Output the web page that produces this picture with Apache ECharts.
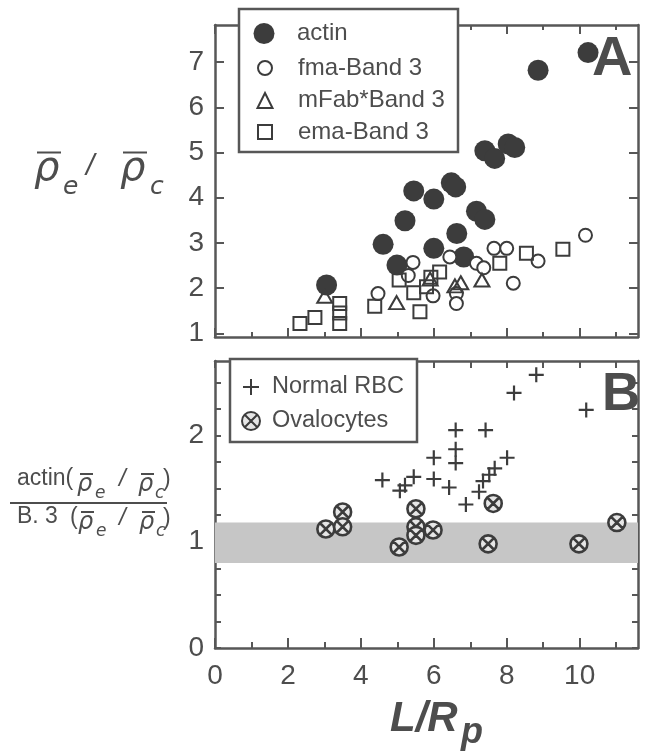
<!DOCTYPE html>
<html>
<head>
<meta charset="utf-8">
<script src="https://cdn.jsdelivr.net/npm/echarts@6/dist/echarts.min.js"></script>
<style>
  html, body { margin: 0; background: #fff; }
  #chart { width: 646px; height: 752px; }
</style>
</head>
<body>
<div id="chart"></div>
<script>
// panel A: rho_e / rho_c against L/Rp
const actin = [[3.06,2.07],[4.61,2.97],[4.99,2.51],[5.21,3.49],[5.45,4.15],[6.0,3.97],[6.0,2.88],
  [6.48,4.33],[6.6,4.24],[6.63,3.21],[6.82,2.69],[7.17,3.7],[7.4,3.52],[7.4,5.04],[7.67,4.87],
  [8.04,5.19],[8.22,5.11],[8.86,6.82],[10.23,7.21]];
const fmaBand3 = [[4.47,1.88],[5.3,2.28],[5.43,2.57],[5.98,1.83],[6.44,2.69],[6.62,1.88],[6.62,1.66],
  [7.17,2.55],[7.37,2.45],[7.65,2.88],[8.0,2.88],[8.18,2.11],[8.86,2.6],[10.16,3.17]];
const mFabBand3 = [[3.01,1.82],[4.98,1.68],[5.9,2.2],[6.58,2.05],[6.74,2.12],[7.32,2.18]];
const emaBand3 = [[2.33,1.22],[2.74,1.35],[3.42,1.66],[3.42,1.45],[3.42,1.22],[4.38,1.6],[5.05,2.18],
  [5.45,1.9],[5.62,1.48],[5.8,2.03],[5.92,2.24],[6.16,2.36],[7.81,2.55],[8.54,2.77],[9.54,2.86]];

// panel B: actin / Band 3 ratio
const normalRBC = [[4.59,1.58],[5.07,1.48],[5.21,1.53],[5.45,1.61],[6.0,1.79],[6.0,1.59],[6.42,1.51],
  [6.6,2.05],[6.6,1.87],[6.6,1.74],[6.88,1.35],[7.24,1.47],[7.35,1.57],[7.52,1.63],[7.67,1.69],
  [8.01,1.79],[7.42,2.05],[8.2,2.4],[8.81,2.57],[10.18,2.24]];
const ovalocytes = [[3.04,1.12],[3.5,1.28],[3.5,1.14],[5.05,0.95],[5.51,1.31],[5.51,1.14],[5.51,1.06],
  [5.98,1.11],[7.49,0.98],[7.63,1.36],[9.98,0.98],[11.02,1.18]];
const shadedBand = [0.8, 1.18];

// axes
const xRange = [0, 11.6];
const xTicksAll = [0,1,2,3,4,5,6,7,8,9,10,11];
const xTicksEven = [0,2,4,6,8,10];
const xLabels = [0,2,4,6,8,10];
const yRangeA = [0.92, 7.82];
const yTicksA = [1,2,3,4,5,6,7];
const yRangeB = [0, 2.7];
const yTicksB = [0,0.25,0.5,0.75,1,1.25,1.5,1.75,2,2.25,2.5];
const yLabelsB = [0,1,2];

const INK = '#3c3c3c';
const FRAME = '#575757';
const TEXT = '#4d4d4d';
const SANS = '"Liberation Sans", Arial, sans-serif';
const GREEK = '"DejaVu Sans", sans-serif';

const plusPath = 'path://M0,6 L12,6 M6,0 L6,12';
const otimesPath = 'path://M10,0 A10,10 0 1,1 10,20 A10,10 0 1,1 10,0 Z M3.6,3.6 L16.4,16.4 M16.4,3.6 L3.6,16.4';

const chart = echarts.init(document.getElementById('chart'));

function xAxisFor(grid, pos, ticks, len, line, labels) {
  return {
    type: 'value', gridIndex: grid, position: pos, offset: 0,
    min: xRange[0], max: xRange[1],
    axisLine: { show: line, onZero: false, lineStyle: { color: FRAME, width: 2.5 } },
    axisTick: { show: true, inside: true, length: len, customValues: ticks,
      lineStyle: { color: FRAME, width: 2 } },
    axisLabel: labels
      ? { show: true, customValues: labels, margin: 14, fontSize: 28, fontFamily: SANS, color: TEXT }
      : { show: false },
    splitLine: { show: false }
  };
}

function yAxisFor(grid, pos, range, ticks, len, labels) {
  return {
    type: 'value', gridIndex: grid, position: pos, offset: 0,
    min: range[0], max: range[1],
    axisLine: { show: true, onZero: false, lineStyle: { color: FRAME, width: 2.5 } },
    axisTick: { show: true, inside: true, length: len, customValues: ticks,
      lineStyle: { color: FRAME, width: 2 } },
    axisLabel: labels
      ? { show: true, customValues: labels, margin: 11, fontSize: 28, fontFamily: SANS, color: TEXT }
      : { show: false },
    splitLine: { show: false }
  };
}

function txt(text, x, baseline, size, family, style) {
  return {
    type: 'text', x: x, y: baseline - 0.35 * size, z: 30,
    style: { text: text, font: (style || 'normal') + ' ' + size + 'px ' + family,
      fill: TEXT, align: 'left', verticalAlign: 'middle' }
  };
}
function bar(x1, x2, y) {
  return { type: 'line', z: 30, shape: { x1: x1, y1: y, x2: x2, y2: y },
    style: { stroke: TEXT, lineWidth: 2 } };
}

// one legend per entry so that each icon keeps its own size
function legendItem(name, cx, cy, size, textX, fontSize) {
  return {
    data: [name], left: cx - size / 2, top: cy - size / 2,
    itemWidth: size, itemHeight: size, padding: 0,
    selectedMode: false, z: 20,
    textStyle: { fontSize: fontSize, fontFamily: SANS, color: TEXT,
      padding: [0, 0, 0, textX - (cx + size / 2 + 5)] }
  };
}

const option = {
  animation: false,
  backgroundColor: '#fff',
  grid: [
    { left: 215, top: 25, width: 423, height: 312 },
    { left: 215, top: 361, width: 423, height: 287 }
  ],
  xAxis: [
    xAxisFor(0, 'bottom', xTicksAll, 5, true, null),
    xAxisFor(0, 'bottom', xTicksEven, 9, false, null),
    xAxisFor(0, 'top', xTicksAll, 5, true, null),
    xAxisFor(0, 'top', xTicksEven, 9, false, null),
    xAxisFor(1, 'bottom', xTicksAll, 6, true, xLabels),
    xAxisFor(1, 'bottom', xTicksEven, 10, false, null),
    xAxisFor(1, 'top', xTicksAll, 7, true, null)
  ],
  yAxis: [
    yAxisFor(0, 'left', yRangeA, yTicksA, 9, yTicksA),
    yAxisFor(0, 'right', yRangeA, yTicksA, 9, null),
    yAxisFor(1, 'left', yRangeB, yTicksB, 6, yLabelsB),
    yAxisFor(1, 'right', yRangeB, yTicksB, 6, null)
  ],
  legend: [
    legendItem('actin', 264, 32, 21, 297, 24),
    legendItem('fma-Band 3', 264, 63, 14, 297, 24),
    legendItem('mFab*Band 3', 264, 96, 15, 297, 24),
    legendItem('ema-Band 3', 264, 127, 14, 297, 24),
    legendItem('Normal RBC', 250, 383, 16, 271, 23.5),
    legendItem('Ovalocytes', 250, 418, 18, 271, 23.5)
  ],
  series: [
    {
      name: 'actin', type: 'scatter', xAxisIndex: 0, yAxisIndex: 0, z: 2,
      symbol: 'circle', symbolSize: 21, data: actin,
      itemStyle: { color: INK, opacity: 1 }
    },
    {
      name: 'fma-Band 3', type: 'scatter', xAxisIndex: 0, yAxisIndex: 0, z: 3,
      symbol: 'circle', symbolSize: 13, data: fmaBand3,
      itemStyle: { color: '#fff', borderColor: INK, borderWidth: 2, opacity: 1 }
    },
    {
      name: 'mFab*Band 3', type: 'scatter', xAxisIndex: 0, yAxisIndex: 0, z: 3,
      symbol: 'triangle', symbolSize: [15, 13], data: mFabBand3,
      itemStyle: { color: 'rgba(255,255,255,0)', borderColor: INK, borderWidth: 2, opacity: 1 }
    },
    {
      name: 'ema-Band 3', type: 'scatter', xAxisIndex: 0, yAxisIndex: 0, z: 3,
      symbol: 'rect', symbolSize: 13, data: emaBand3,
      itemStyle: { color: 'rgba(255,255,255,0)', borderColor: INK, borderWidth: 2, opacity: 1 }
    },
    {
      name: 'band', type: 'scatter', xAxisIndex: 4, yAxisIndex: 2, z: 1, data: [],
      markArea: {
        silent: true,
        itemStyle: { color: '#c6c6c6' },
        data: [[{ yAxis: shadedBand[0] }, { yAxis: shadedBand[1] }]]
      }
    },
    {
      name: 'Normal RBC', type: 'scatter', xAxisIndex: 4, yAxisIndex: 2, z: 3,
      symbol: plusPath, symbolSize: 15, data: normalRBC,
      itemStyle: { color: 'rgba(255,255,255,0)', borderColor: INK, borderWidth: 2.2, opacity: 1 }
    },
    {
      name: 'Ovalocytes', type: 'scatter', xAxisIndex: 4, yAxisIndex: 2, z: 3,
      symbol: otimesPath, symbolSize: 17, data: ovalocytes,
      itemStyle: { color: '#e6e6e6', borderColor: INK, borderWidth: 2.6, opacity: 1 }
    }
  ],
  graphic: [
    // legend frames
    { type: 'rect', z: 10, shape: { x: 239, y: 9, width: 219, height: 143 },
      style: { fill: '#fff', stroke: FRAME, lineWidth: 2.5 } },
    { type: 'rect', z: 10, shape: { x: 230, y: 359, width: 187, height: 83 },
      style: { fill: '#fff', stroke: FRAME, lineWidth: 2.5 } },
    // panel letters
    txt('A', 592, 79, 56, SANS, 'bold'),
    txt('B', 602, 414, 53, SANS, 'bold'),
    // y title panel A
    bar(37, 61, 152.5), txt('ρ', 34, 184, 40, GREEK, 'italic'), txt('e', 63, 196, 25, GREEK, 'italic'),
    txt('/', 86, 177, 30, SANS, 'italic'),
    bar(123, 147, 152.5), txt('ρ', 120, 184, 40, GREEK, 'italic'), txt('c', 150, 196, 25, GREEK, 'italic'),
    // y title panel B, numerator
    txt('actin(', 17, 487, 23, SANS, 'normal'),
    bar(80, 93, 474), txt('ρ', 77, 493, 24, GREEK, 'italic'), txt('e', 95, 500, 17, GREEK, 'italic'),
    txt('/', 119, 488, 24, SANS, 'italic'),
    bar(141, 154, 474), txt('ρ', 138, 493, 24, GREEK, 'italic'), txt('c', 155, 500, 17, GREEK, 'italic'),
    txt(')', 163, 488, 23, SANS, 'normal'),
    bar(10, 167, 503),
    // denominator
    txt('B. 3', 17, 525, 23, SANS, 'normal'), txt('(', 70, 526, 23, SANS, 'normal'),
    bar(81, 94, 512), txt('ρ', 78, 531, 24, GREEK, 'italic'), txt('e', 96, 538, 17, GREEK, 'italic'),
    txt('/', 119, 527, 24, SANS, 'italic'),
    bar(142, 155, 512), txt('ρ', 139, 531, 24, GREEK, 'italic'), txt('c', 156, 538, 17, GREEK, 'italic'),
    txt(')', 163, 527, 23, SANS, 'normal'),
    // x title
    txt('L/R', 390, 734, 42, SANS, 'italic bold'),
    txt('p', 461, 746, 36, SANS, 'italic bold')
  ]
};

chart.setOption(option);
</script>
</body>
</html>
